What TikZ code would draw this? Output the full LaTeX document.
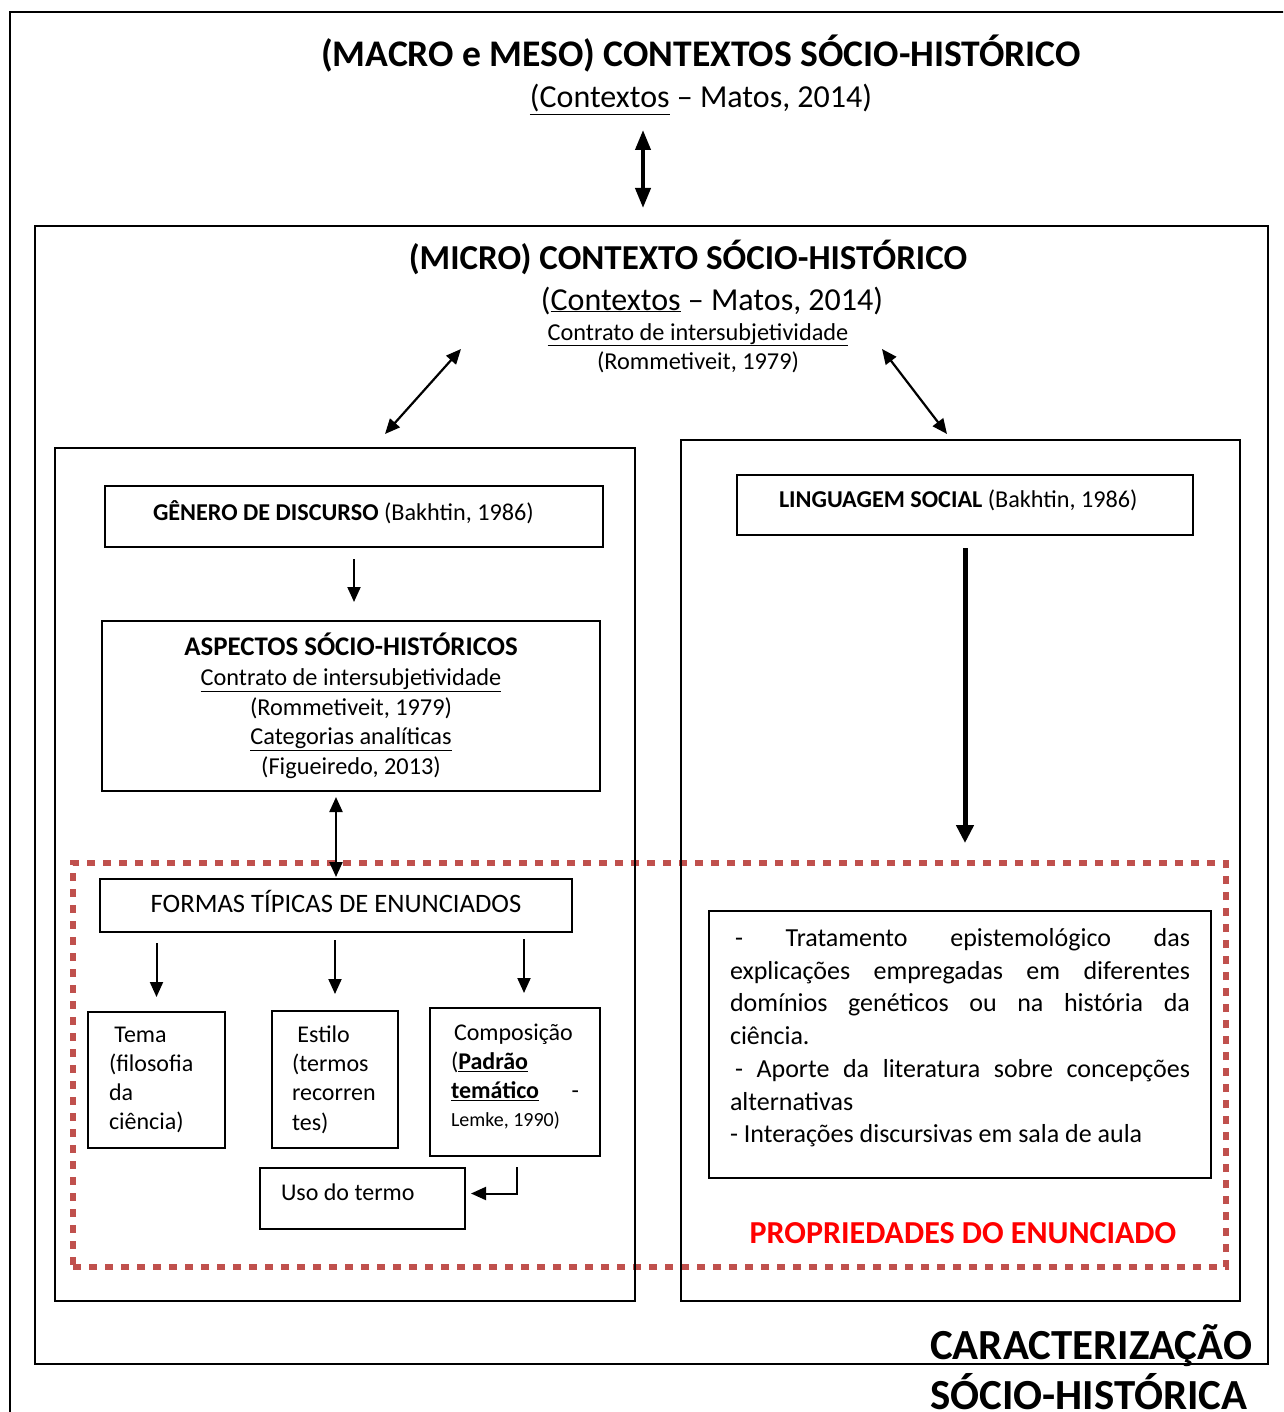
\documentclass[tikz,border=0pt]{standalone}
\usepackage{fontspec}
\setmainfont{Carlito}
\usetikzlibrary{arrows.meta}
\definecolor{dotred}{RGB}{192,80,77}
\definecolor{propred}{RGB}{255,0,0}
\newcommand{\fsz}[2]{\fontsize{#1}{#2}\selectfont}

\begin{document}
\begin{tikzpicture}[x=1pt,y=-1pt,
  every node/.style={inner sep=0pt},
  box/.style={draw=black,line width=2pt,anchor=north west},
  arr/.style={line width=2pt,-{Triangle[length=15pt,width=13pt]}},
  dblarr/.style={line width=2.2pt,{Triangle[length=15pt,width=13pt]}-{Triangle[length=15pt,width=13pt]}},
  bigdbl/.style={line width=4pt,{Triangle[length=20pt,width=15pt]}-{Triangle[length=20pt,width=15pt]}},
  bigarr/.style={line width=5pt,-{Triangle[length=18pt,width=17pt]}}]
\useasboundingbox (0,0) rectangle (1283,1412);
\clip (0,0) rectangle (1283,1412);
% outer frame
\draw[line width=2pt] (1290,12) -- (10,12) -- (10,1420);
\node[anchor=base,font=\fsz{37.6}{44}\bfseries] (macro) at (701,67) {(MACRO e MESO) CONTEXTOS SÓCIO-HISTÓRICO};
\node[anchor=base,font=\fsz{32}{38}] (macrosub) at (701,108) {\underline{(Contextos} – Matos, 2014)};
\coordinate (ma1) at (643,130);
\coordinate (ma2) at (643,208);
\draw[bigdbl] (ma1) -- (ma2);
% micro context
\node[box,minimum width=1233pt,minimum height=1138pt] (micro) at (34,225) {};
\node[anchor=base,font=\fsz{35}{42}\bfseries] (microtit) at (688,270) {(MICRO) CONTEXTO SÓCIO-HISTÓRICO};
\node[anchor=base,font=\fsz{32}{38}] (microsub) at (712,310) {(\underline{Contextos} – Matos, 2014)};
\node[anchor=base,font=\fsz{24.3}{29}] (contrato) at (698,340) {\underline{Contrato de intersubjetividade}};
\node[anchor=base,font=\fsz{24.3}{29}] (rommet) at (698,369) {(Rommetiveit, 1979)};
\coordinate (ld1) at (461,349);
\coordinate (ld2) at (385,434);
\coordinate (rd1) at (882,349);
\coordinate (rd2) at (947,434);
\draw[dblarr] (ld1) -- (ld2);
\draw[dblarr] (rd1) -- (rd2);
% red frame
\node[draw=dotred,line width=6pt,dash pattern=on 8pt off 8pt,minimum width=1153pt,minimum height=404pt,anchor=north west] (enunc) at (70,860) {};
% left column
\node[box,minimum width=580pt,minimum height=853pt] (leftbox) at (54,447) {};
\node[box,minimum width=498pt,minimum height=61pt,text width=402pt,align=flush left,text depth=12pt,font=\fsz{24.2}{28}] (genero) at (104,485) {\textbf{GÊNERO DE DISCURSO} (Bakhtin, 1986)};
\node[box,minimum width=498pt,minimum height=170pt,align=center,font=\fsz{24.3}{29.75}] (aspectos) at (101,620) {{\fsz{26.9}{29.75}\bfseries ASPECTOS SÓCIO-HISTÓRICOS}\\ \underline{Contrato de intersubjetividade}\\ (Rommetiveit, 1979)\\ \underline{Categorias analíticas}\\ (Figueiredo, 2013)};
\node[box,minimum width=472pt,minimum height=53pt,text depth=9pt,font=\fsz{26.6}{30}] (formas) at (99,878) {FORMAS TÍPICAS DE ENUNCIADOS};
\node[box,minimum width=137pt,minimum height=136pt,text width=95pt,align=flush left,font=\fsz{24}{29.3}] (tema) at (87,1011) {\ Tema\\(filosofia\\da\\ciência)};
\node[box,minimum width=126pt,minimum height=137pt,text width=86pt,align=flush left,font=\fsz{24}{29.3}] (estilo) at (271,1010) {\ Estilo\\(termos\\recorren\\tes)};
\node[box,minimum width=170pt,minimum height=148pt,text width=128pt,align=flush left,font=\fsz{24}{29}] (compos) at (429,1007) {\hspace*{3pt}Composição\\(\textbf{\underline{Padrão}}\\\makebox[128pt]{\textbf{\underline{temático}}\hfill -}\\[-1pt]{\fsz{20}{28}Lemke, 1990)}\\[-16pt]\mbox{}};
\node[box,minimum width=205pt,minimum height=61pt,text width=163pt,align=flush left,text depth=12pt,font=\fsz{24}{29}] (uso) at (259,1167) {Uso do termo};
\draw[arr,shorten <=11pt,shorten >=18pt] (genero.south) -- (genero.south |- aspectos.north);
\draw[dblarr,shorten <=5pt,shorten >=1pt] (aspectos.south -| formas.north) -- (formas.north);
\draw[arr,shorten <=10pt,shorten >=14pt] (formas.south -| tema.north) -- (tema.north);
\draw[arr,shorten <=7pt,shorten >=16pt] (formas.south -| estilo.north) -- (estilo.north);
\draw[arr,shorten <=6pt,shorten >=14pt] ([xshift=9pt]formas.south -| compos.north) -- ([xshift=9pt]compos.north);
\draw[arr] ([xshift=2pt,yshift=-10pt]compos.south) |- ([xshift=5pt,yshift=5pt]uso.east);
% right column
\node[box,minimum width=559pt,minimum height=861pt] (rightbox) at (680,439) {};
\node[box,minimum width=456pt,minimum height=60pt,text width=372pt,align=flush left,text depth=12pt,font=\fsz{24.2}{28}] (lingua) at (736,474) {\textbf{LINGUAGEM SOCIAL} (Bakhtin, 1986)};
\draw[bigarr,shorten <=12pt,shorten >=17pt] (lingua.south) -- (lingua.south |- enunc.north);
\node[box,minimum width=502pt,minimum height=267pt,text width=460pt,align=flush left,font=\fsz{26}{32.7}] (props) at (708,910) {\makebox[460pt]{\hspace*{5pt}-\hfill Tratamento\hfill epistemológico\hfill das}\\
\makebox[460pt]{explicações\hfill empregadas\hfill em\hfill diferentes}\\
\makebox[460pt]{domínios\hfill genéticos\hfill ou\hfill na\hfill história\hfill da}\\
ciência.\\
\makebox[460pt]{\hspace*{5pt}-\hfill Aporte\hfill da\hfill literatura\hfill sobre\hfill concepções}\\
alternativas\\
- Interações discursivas em sala de aula\\[-15pt]\mbox{}};
\node[anchor=base,font=\fsz{32}{38}\bfseries,text=propred] (propr) at (963,1243) {PROPRIEDADES DO ENUNCIADO};
\node[anchor=base west,font=\fsz{42.9}{50}\bfseries] (carac1) at (930,1359) {CARACTERIZAÇÃO};
\node[anchor=base west,font=\fsz{42.9}{50}\bfseries] (carac2) at (930,1409) {SÓCIO-HISTÓRICA};
\end{tikzpicture}
\end{document}
